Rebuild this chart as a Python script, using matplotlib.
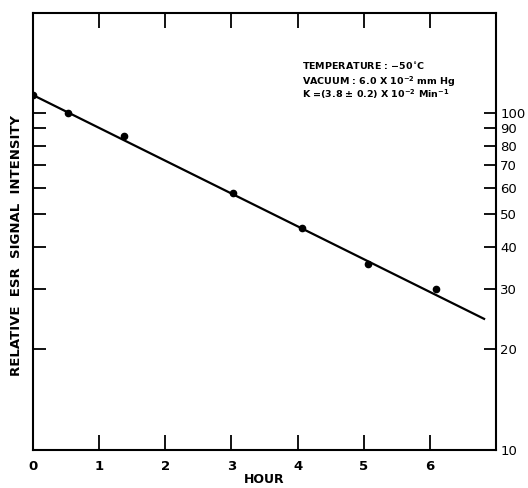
import matplotlib
matplotlib.use("Agg")
import matplotlib.pyplot as plt

# ESR signal decay at -50 C
hours = [0.0, 0.53, 1.38, 3.03, 4.06, 5.06, 6.09]
intensity = [113, 100, 85.5, 58, 45.6, 35.6, 30.0]

# fitted first-order decay line (endpoints)
fit_hours = [0.0, 6.82]
fit_intensity = [113, 24.5]

x_ticks = [1, 2, 3, 4, 5, 6]
x_labels = ["0", "1", "2", "3", "4", "5", "6"]
y_ticks = [10, 20, 30, 40, 50, 60, 70, 80, 90, 100]
y_labels = ["10", "20", "30", "40", "50", "60", "70", "80", "90", "100"]

plt.rcParams["font.family"] = "DejaVu Sans"
plt.rcParams["mathtext.default"] = "bf"

fig = plt.figure(figsize=(5.28, 4.88), dpi=100)
ax = fig.add_axes([33 / 528, 38 / 488, 463 / 528, 437 / 488])

ax.plot(fit_hours, fit_intensity, color="black", linewidth=1.6)
ax.plot(hours, intensity, "o", color="black", markersize=4.5)

ax.set_yscale("log")
ax.set_xlim(0, 7)
ax.set_ylim(10, 198)

# x axis: inward ticks on top and bottom, labels under
ax.set_xticks([0] + x_ticks)
ax.set_xticklabels(x_labels, fontsize=9.5, fontweight="bold")
ax.tick_params(axis="x", which="major", direction="in", length=11, width=1.3,
               top=True, bottom=True, pad=7)
xt = ax.xaxis.get_major_ticks()
xt[0].tick1line.set_visible(False)
xt[0].tick2line.set_visible(False)

# y axis: ticks on both sides, labels on the right
ax.minorticks_off()
ax.set_yticks(y_ticks)
ax.set_yticklabels(y_labels, fontsize=9.5)
ax.yaxis.set_minor_locator(matplotlib.ticker.NullLocator())
ax.tick_params(axis="y", which="major", direction="in", length=9, width=1.3,
               left=True, right=True, labelleft=False, labelright=True, pad=3)
ax.yaxis.get_major_ticks()[0].tick1line.set_visible(False)

for s in ax.spines.values():
    s.set_linewidth(1.5)

ax.set_xlabel("HOUR", fontsize=9, fontweight="bold", labelpad=0)
fig.text(17 / 528, 1 - 245 / 488, "RELATIVE  ESR  SIGNAL  INTENSITY",
         rotation=90, ha="center", va="center", fontsize=9.5, fontweight="bold")

ax.text(0.581, 0.89, "TEMPERATURE : $-$50$^{\\circ}$C", transform=ax.transAxes,
        fontsize=6.8, fontweight="bold", va="top")
ax.text(0.581, 0.86, "VACUUM : 6.0 X 10$^{-2}$ mm Hg", transform=ax.transAxes,
        fontsize=6.8, fontweight="bold", va="top")
ax.text(0.581, 0.83, "K =(3.8 $\\pm$ 0.2) X 10$^{-2}$ Min$^{-1}$", transform=ax.transAxes,
        fontsize=6.8, fontweight="bold", va="top")

fig.savefig("out.png", dpi=100)
